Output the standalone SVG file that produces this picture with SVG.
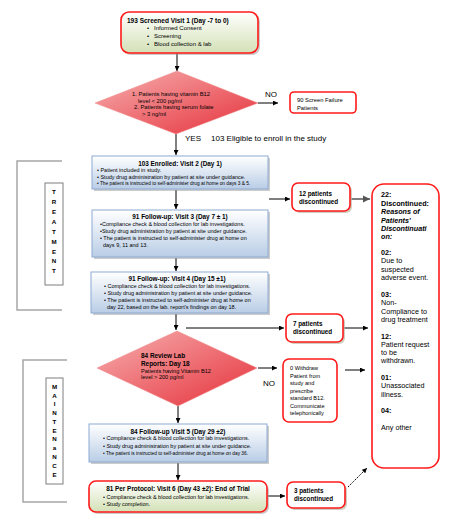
<svg xmlns="http://www.w3.org/2000/svg" width="452" height="523" viewBox="0 0 452 523">
<defs>
<linearGradient id="gBlue" x1="0" y1="0" x2="0" y2="1"><stop offset="0" stop-color="#ffffff"/><stop offset="1" stop-color="#b9cde6"/></linearGradient>
<linearGradient id="gGreen" x1="0" y1="0" x2="0" y2="1"><stop offset="0" stop-color="#ffffff"/><stop offset="1" stop-color="#d3e1b6"/></linearGradient>
<linearGradient id="gRed" x1="0" y1="0" x2="1" y2="1"><stop offset="0" stop-color="#f6b0b0"/><stop offset="1" stop-color="#e6303a"/></linearGradient>
<marker id="ah" viewBox="0 0 10 10" refX="10" refY="5" markerWidth="5" markerHeight="5" orient="auto"><path d="M0,0 L10,5 L0,10 z" fill="#000"/></marker>
<marker id="ahg" viewBox="0 0 10 10" refX="10" refY="5" markerWidth="5" markerHeight="5" orient="auto"><path d="M0,0 L10,5 L0,10 z" fill="#555"/></marker>
</defs>
<style>
text{font-family:"Liberation Sans",Arial,sans-serif;fill:#000}
.b{font-weight:bold}
.t{font-size:6.4px;font-weight:bold}
.s{font-size:5.5px}
.xs{font-size:4.8px}
.lbl{font-size:8px}
.big{font-size:7.2px}
.blue{fill:url(#gBlue);stroke:#8eaad3;stroke-width:1}
.green{fill:url(#gGreen);stroke:#ff1a1a;stroke-width:1.6}
.disc{fill:#fff;stroke:#ff1a1a;stroke-width:1.6}
.sh{fill:#b9b9a6;opacity:0.7}
.shb{fill:#9a9a9a;opacity:0.5}
.dia{fill:url(#gRed);stroke:#f08a8a;stroke-width:0.5}
.br{fill:none;stroke:#a6a6a6;stroke-width:1.5}
.lb{fill:#fff;stroke:#7f7f7f;stroke-width:1}
.ph{font-size:6.2px;font-weight:bold;text-anchor:middle}
.c{stroke:#000;stroke-width:1;fill:none;marker-end:url(#ah)}
</style>

<g id="phase-treatment">
<path class="br" d="M62,161 H17 V310 H62"/>
<rect class="lb" x="45" y="183" width="18" height="102"/>
<text class="ph" x="54" y="194">T</text>
<text class="ph" x="54" y="204">R</text>
<text class="ph" x="54" y="214">E</text>
<text class="ph" x="54" y="224">A</text>
<text class="ph" x="54" y="234">T</text>
<text class="ph" x="54" y="244">M</text>
<text class="ph" x="54" y="254">E</text>
<text class="ph" x="54" y="263">N</text>
<text class="ph" x="54" y="273">T</text>
</g>

<g id="phase-maintenance">
<path class="br" d="M67,360 H23 V502 H67"/>
<rect class="lb" x="46" y="378" width="17" height="106"/>
<text class="ph" x="54.5" y="389">M</text>
<text class="ph" x="54.5" y="397.5">A</text>
<text class="ph" x="54.5" y="406">I</text>
<text class="ph" x="54.5" y="415">N</text>
<text class="ph" x="54.5" y="424">T</text>
<text class="ph" x="54.5" y="432.5">E</text>
<text class="ph" x="54.5" y="441">N</text>
<text class="ph" x="54.5" y="450">a</text>
<text class="ph" x="54.5" y="459">N</text>
<text class="ph" x="54.5" y="468">C</text>
<text class="ph" x="54.5" y="477">E</text>
</g>

<g id="connectors">
<line class="c" x1="177" y1="53" x2="177" y2="71"/>
<line class="c" x1="258" y1="103" x2="278" y2="103"/>
<line class="c" x1="176" y1="134" x2="176" y2="155"/>
<line class="c" x1="176" y1="190" x2="176" y2="209"/>
<line class="c" x1="269" y1="199" x2="290" y2="199"/>
<line x1="351" y1="199" x2="370" y2="199" stroke="#555" stroke-width="1.5" marker-end="url(#ahg)"/>
<line class="c" x1="176" y1="258" x2="176" y2="271"/>
<line class="c" x1="176" y1="314" x2="176" y2="330"/>
<line class="c" x1="186" y1="328" x2="284" y2="328"/>
<line class="c" x1="344" y1="328" x2="368" y2="328"/>
<line class="c" x1="258" y1="368" x2="277" y2="368"/>
<line class="c" x1="345" y1="370" x2="365" y2="370"/>
<line class="c" x1="178" y1="406" x2="178" y2="423"/>
<line class="c" x1="178" y1="463" x2="178" y2="480"/>
<line class="c" x1="268" y1="496" x2="285" y2="496"/>
<line class="c" x1="348" y1="487" x2="367" y2="468" stroke-dasharray="1.5,1"/>
</g>

<g id="n-screened">
<rect class="shb" x="123" y="14" width="137" height="41" rx="8"/>
<rect class="green" x="121" y="12" width="137" height="41" rx="8"/>
<text class="b" x="127" y="22.5" style="font-size:6.5px">193 Screened Visit 1 (Day -7 to 0)</text>
<text style="font-size:6px" x="147" y="30">•</text><text style="font-size:6px" x="154" y="30">Informed Consent</text>
<text style="font-size:6px" x="147" y="38">•</text><text style="font-size:6px" x="154" y="38">Screening</text>
<text style="font-size:6px" x="147" y="45.5">•</text><text style="font-size:6px" x="154" y="45.5">Blood collection &amp; lab</text>
</g>

<g id="n-criteria">
<polygon class="dia" points="177,71 258,103 176,134 95,103"/>
<text style="font-size:5.8px" x="132" y="96">1. Patients having vitamin B12</text>
<text style="font-size:5.8px" x="138" y="103">level &lt; 200 pg/ml</text>
<text style="font-size:5.8px" x="134" y="109">2.  Patients having serum folate</text>
<text style="font-size:5.8px" x="142" y="115.5">&gt; 3 ng/ml</text>
</g>
<text class="lbl" x="265" y="97">NO</text>
<text class="lbl" x="185" y="141">YES</text>
<text class="lbl" x="211" y="141">103 Eligible to enroll in the study</text>

<g id="n-screenfail">
<rect class="disc" x="290" y="92" width="66" height="21" rx="4"/>
<text style="font-size:5.8px" x="297" y="102">90 Screen Failure</text>
<text style="font-size:5.8px" x="297" y="110">Patients</text>
</g>

<g id="n-visit2">
<rect class="shb" x="94" y="158" width="176" height="33"/>
<rect class="blue" x="92" y="156" width="176" height="33"/>
<text class="t" x="180" y="166" text-anchor="middle">103 Enrolled: Visit 2 (Day 1)</text>
<text class="s" x="97" y="172">•  Patient included in study.</text>
<text class="s" x="97" y="178.5">•  Study drug administration by patient at site under guidance.</text>
<text class="xs" x="97" y="184.5">•  The patient is instructed to self-administer drug at home on days 3 &amp; 5.</text>
</g>

<g id="n-disc12">
<rect class="sh" x="294" y="185" width="58" height="28" rx="6"/>
<rect class="disc" x="292" y="183" width="58" height="28" rx="6"/>
<text class="b" style="font-size:6.3px" x="299" y="195.5">12 patients</text>
<text class="b" style="font-size:6.3px" x="299" y="203.5">discontinued</text>
</g>

<g id="n-visit3">
<rect class="shb" x="94" y="212" width="176" height="47"/>
<rect class="blue" x="92" y="210" width="176" height="47"/>
<text class="t" x="180" y="218.5" text-anchor="middle">91 Follow-up: Visit 3 (Day 7 ± 1)</text>
<text class="s" x="100" y="226">•Compliance check &amp; blood collection for lab investigations.</text>
<text class="s" x="100" y="233">•Study drug administration by patient at site under guidance.</text>
<text class="s" x="100" y="240">• The patient is instructed to self-administer drug at home on</text>
<text class="s" x="103" y="247">days 9, 11 and 13.</text>
</g>

<g id="n-visit4">
<rect class="shb" x="93" y="274" width="177" height="41"/>
<rect class="blue" x="91" y="272" width="177" height="41"/>
<text class="t" x="177" y="280.5" text-anchor="middle">91 Follow-up: Visit 4 (Day 15 ±1)</text>
<text class="s" x="104" y="288">• Compliance check &amp; blood collection for lab investigations.</text>
<text class="s" x="104" y="295">• Study drug administration by patient at site under guidance.</text>
<text class="s" x="104" y="302">• The patient is instructed to self-administer drug at home on</text>
<text class="s" x="107" y="308.5">day 22, based on the lab. report's findings on day 18.</text>
</g>

<g id="n-disc7">
<rect class="sh" x="288" y="316" width="57" height="28" rx="6"/>
<rect class="disc" x="286" y="314" width="57" height="28" rx="6"/>
<text class="b" style="font-size:6.3px" x="293" y="325.5">7 patients</text>
<text class="b" style="font-size:6.3px" x="293" y="334">discontinued</text>
</g>

<g id="n-review">
<polygon class="dia" points="177,331 257,368 178,406 97,368"/>
<text class="b" style="font-size:6.4px" x="141" y="358">84 Review Lab</text>
<text class="b" style="font-size:6.4px" x="141" y="366">Reports:  Day 18</text>
<text style="font-size:5.6px" x="141" y="372.5">Patients having Vitamin B12</text>
<text style="font-size:5.6px" x="141" y="378.5">level &gt; 200 pg/ml</text>
</g>
<text class="lbl" x="263" y="386">NO</text>

<g id="n-withdraw">
<rect class="disc" x="283" y="359" width="54" height="63" rx="6"/>
<text style="font-size:5.6px" x="290" y="370">0   Withdraw</text>
<text style="font-size:5.6px" x="290" y="377.5">Patient from</text>
<text style="font-size:5.6px" x="290" y="385">study and</text>
<text style="font-size:5.6px" x="290" y="392.5">prescribe</text>
<text style="font-size:5.6px" x="290" y="400">standard B12.</text>
<text style="font-size:5.6px" x="290" y="407.5">Communicate</text>
<text style="font-size:5.6px" x="290" y="415">telephonically</text>
</g>

<g id="n-visit5">
<rect class="shb" x="91" y="426" width="178" height="38"/>
<rect class="blue" x="89" y="424" width="178" height="38"/>
<text class="t" x="178" y="434" text-anchor="middle">84 Follow-up Visit 5 (Day 29 ±2)</text>
<text class="s" x="103" y="440">•  Compliance check &amp; blood collection for lab investigations.</text>
<text class="s" x="103" y="447.5">•  Study drug administration by patient at site under guidance.</text>
<text class="xs" x="103" y="454.5">•  The patient is instructed to self-administer drug at home on day 36.</text>
</g>

<g id="n-visit6">
<rect class="shb" x="91" y="483" width="178" height="31" rx="7"/>
<rect class="green" x="89" y="481" width="178" height="31" rx="7"/>
<text class="t" x="178" y="491" text-anchor="middle">81 Per Protocol: Visit 6 (Day 43 ±2): End of Trial</text>
<text class="s" x="103" y="499">•  Compliance check &amp; blood collection for lab investigations.</text>
<text class="s" x="103" y="506">•  Study completion.</text>
</g>

<g id="n-disc3">
<rect class="sh" x="289" y="484" width="58" height="26" rx="6"/>
<rect class="disc" x="287" y="482" width="58" height="26" rx="6"/>
<text class="b" style="font-size:6.3px" x="294" y="492.5">3 patients</text>
<text class="b" style="font-size:6.3px" x="294" y="500.5">discontinued</text>
</g>

<g id="n-reasons">
<rect class="disc" x="372" y="184" width="67" height="284" rx="12"/>
<text class="big b" x="381" y="197">22:</text>
<text class="big b" x="381" y="205.5">Discontinued:</text>
<text class="big b" font-style="italic" x="381" y="214">Reasons of</text>
<text class="big b" font-style="italic" x="381" y="222.5">Patients'</text>
<text class="big b" font-style="italic" x="381" y="230.5">Discontinuati</text>
<text class="big b" font-style="italic" x="381" y="239">on:</text>
<text class="big b" x="381" y="255">02:</text>
<text class="big" x="381" y="263">Due to</text>
<text class="big" x="381" y="271.5">suspected</text>
<text class="big" x="381" y="279.5">adverse event.</text>
<text class="big b" x="381" y="296.5">03:</text>
<text class="big" x="381" y="305">Non-</text>
<text class="big" x="381" y="313.5">Compliance to</text>
<text class="big" x="381" y="321.5">drug treatment</text>
<text class="big b" x="381" y="338.5">12:</text>
<text class="big" x="381" y="346.5">Patient request</text>
<text class="big" x="381" y="355">to be</text>
<text class="big" x="381" y="363">withdrawn.</text>
<text class="big b" x="381" y="379.5">01:</text>
<text class="big" x="381" y="388">Unassociated</text>
<text class="big" x="381" y="396.5">illness.</text>
<text class="big b" x="381" y="412.5">04:</text>
<text class="big" x="381" y="429.5">Any other</text>
</g>
</svg>
